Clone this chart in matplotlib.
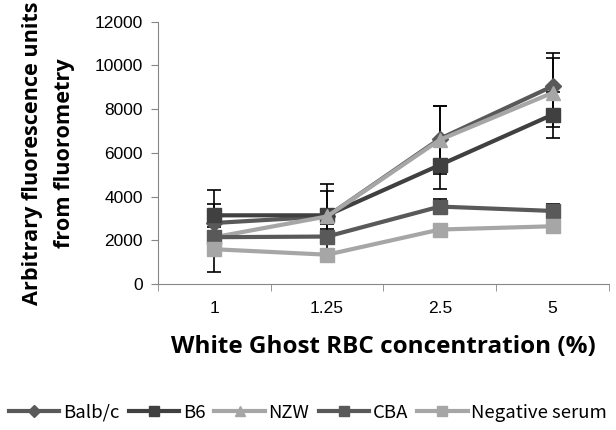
import numpy as np
import matplotlib
matplotlib.use('Agg')
import matplotlib.pyplot as plt

plt.rcParams['font.family'] = ['Liberation Sans', 'DejaVu Sans']

categories = ['1', '1.25', '2.5', '5']
series = ['Balb/c', 'B6', 'NZW', 'CBA', 'Negative serum']
balbc = [2800, 3100, 6650, 9050]
b6 = [3150, 3150, 5450, 7750]
nzw = [2150, 3100, 6600, 8750]
cba = [2150, 2180, 3550, 3350]
neg = [1600, 1350, 2500, 2650]
balbc_err = [850, 1500, 1500, 1500]
b6_err = [1140, 1100, 1100, 1050]
nzw_err = [300, 350, 1550, 1570]
cba_err = [300, 350, 330, 330]
neg_err = [1025, 200, 200, 200]

values = [balbc, b6, nzw, cba, neg]
errors = [balbc_err, b6_err, nzw_err, cba_err, neg_err]
colors = ['#595959', '#404040', '#a6a6a6', '#595959', '#a6a6a6']
markers = ['D', 's', '^', 's', 's']
msizes = [8, 10, 10, 10, 10]

fig = plt.figure(figsize=(6.16, 4.30), dpi=100)
ax = fig.add_axes([0.2565, 0.339, 0.732, 0.6105])
x = np.arange(1, len(categories) + 1)
for v, e, c, m, ms, name in zip(values, errors, colors, markers, msizes, series):
    ax.errorbar(x, v, yerr=e, ecolor='black', elinewidth=1.2, capsize=5, capthick=1.2,
                fmt='none', zorder=2)
    ax.plot(x, v, color=c, lw=3, marker=m, ms=ms, markeredgecolor=c, label=name, zorder=3)

ax.set_xlim(0.5, 4.5)
ax.set_ylim(0, 12000)
ax.set_yticks(np.arange(0, 12001, 2000))
ax.set_xticks(x)
ax.set_xticklabels(categories)
ax.set_xticks(np.arange(0.5, 4.6, 1), minor=True)
ax.tick_params(axis='x', which='major', length=0, pad=12, labelsize=12.5)
ax.tick_params(axis='x', which='minor', length=5, color='#868686')
ax.tick_params(axis='y', length=5, color='#868686', labelsize=12.5, pad=6)
for s in ['top', 'right']:
    ax.spines[s].set_visible(False)
for s in ['left', 'bottom']:
    ax.spines[s].set_color('#868686')

lab = dict(family=['Open Sans', 'DejaVu Sans'], fontweight='bold')
ax.set_xlabel('White Ghost RBC concentration (%)', labelpad=14, fontsize=17.5, **lab)
ax.set_ylabel('Arbitrary fluorescence units\nfrom fluorometry', linespacing=1.65,
              fontsize=15.6, **lab)
ax.yaxis.set_label_coords(-0.185, 0.5)

fig.legend(loc='center', bbox_to_anchor=(0.5, 0.04), ncol=5, frameon=False,
           prop={'family': ['Noto Sans CJK JP', 'DejaVu Sans'], 'size': 13.4},
           handlelength=2.7, handletextpad=0.2, columnspacing=0.5, borderaxespad=0,
           markerscale=0.75)

fig.savefig('out.png', dpi=100)
